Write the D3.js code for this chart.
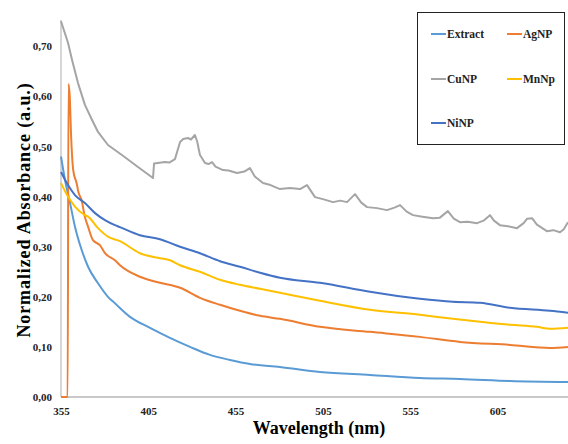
<!DOCTYPE html>
<html>
<head>
<meta charset="utf-8">
<script src="https://cdn.jsdelivr.net/npm/d3@7"></script>
<style>
  body { margin: 0; background: #fff; }
</style>
</head>
<body>
<svg id="chart" width="568" height="444"></svg>
<script>
// data: [wavelength nm, normalized absorbance]
var extract = [[355,0.48],[357.3,0.433],[360.2,0.387],[363,0.34],[366.9,0.293],[370.5,0.26],[376.2,0.227],
  [381.9,0.2],[385.9,0.187],[394.5,0.16],[406,0.138],[417.4,0.118],[428.9,0.1],[440.3,0.084],[451.8,0.074],
  [463.2,0.066],[480.4,0.06],[503.3,0.05],[532,0.044],[560.6,0.038],[583.5,0.036],[612.2,0.032],[645.4,0.03]];
var agnp = [[355,0],[358.8,0],[359.3,0.625],[360,0.6],[360.8,0.52],[362,0.453],[364.2,0.423],[364.7,0.413],
  [367,0.39],[368.5,0.362],[370.5,0.34],[373.3,0.313],[377.3,0.303],[380.2,0.287],[385.9,0.273],[388.8,0.263],
  [400.2,0.24],[411.7,0.228],[423.2,0.218],[434.6,0.198],[446.1,0.184],[457.5,0.172],[469,0.162],[480.4,0.156],
  [503.3,0.14],[532,0.13],[560.6,0.12],[583.5,0.11],[612.2,0.104],[635.1,0.098],[645.4,0.1]];
var cunp = [[355,0.75],[359,0.707],[361.3,0.673],[364.7,0.627],[368.7,0.583],[372.8,0.553],[376.2,0.529],
  [381.9,0.503],[389.9,0.483],[399.1,0.459],[407.7,0.437],[408.3,0.466],[414.6,0.469],[417,0.468],[420.3,0.475],
  [423.2,0.509],[425,0.515],[427.7,0.517],[429.5,0.514],[431.7,0.523],[433,0.51],[434.6,0.483],[437.5,0.467],
  [439.5,0.465],[441.5,0.469],[443.5,0.46],[447.8,0.453],[451,0.452],[455.8,0.447],[460,0.45],[463.2,0.457],
  [466,0.44],[470.7,0.427],[475,0.423],[480.4,0.415],[486,0.417],[491.9,0.415],[495.9,0.423],[500.5,0.399],
  [505,0.395],[510.8,0.389],[515,0.392],[518.8,0.389],[523.4,0.405],[527,0.388],[530.3,0.379],[536,0.377],
  [541.7,0.373],[546,0.378],[549.2,0.383],[553,0.37],[556.6,0.363],[562,0.36],[568.1,0.357],[572,0.358],
  [576.6,0.371],[580,0.356],[583.5,0.349],[588,0.35],[593.3,0.347],[597,0.352],[600.7,0.363],[603,0.352],
  [606.4,0.343],[611,0.341],[616.2,0.337],[620,0.347],[622,0.356],[624.8,0.357],[627.6,0.344],[633.3,0.331],
  [637,0.333],[640.8,0.329],[643,0.335],[645.4,0.349]];
var mnnp = [[355,0.427],[359,0.4],[363,0.38],[368.7,0.363],[370.5,0.36],[376.2,0.337],[381.9,0.32],[388.8,0.311],
  [400.2,0.287],[411.7,0.277],[417.4,0.273],[423.2,0.263],[434.6,0.25],[446.1,0.234],[457.5,0.224],[469,0.216],
  [480.4,0.208],[503.3,0.192],[532,0.174],[560.6,0.164],[579.5,0.156],[595,0.15],[612.2,0.144],[627.6,0.14],
  [635.1,0.136],[645.4,0.138]];
var ninp = [[355,0.449],[359,0.423],[363,0.403],[368.7,0.387],[374.5,0.367],[380.2,0.353],[385.9,0.343],
  [388.8,0.339],[400.2,0.323],[411.7,0.315],[423.2,0.3],[434.6,0.287],[446.1,0.271],[457.5,0.26],[469,0.248],
  [480.4,0.238],[503.3,0.228],[532,0.21],[560.6,0.196],[579.5,0.19],[595,0.188],[612.2,0.178],[635.1,0.172],
  [645.4,0.168]];

var xTicks = [355, 405, 455, 505, 555, 605];
var yTicks = [0, 0.1, 0.2, 0.3, 0.4, 0.5, 0.6, 0.7];

var series = [
  {name: "Extract", color: "#5B9BD5", data: extract, smooth: true},
  {name: "AgNP", color: "#ED7D31", data: agnp, smooth: true},
  {name: "CuNP", color: "#A5A5A5", data: cunp, smooth: false},
  {name: "MnNp", color: "#FFC000", data: mnnp, smooth: true},
  {name: "NiNP", color: "#4472C4", data: ninp, smooth: true}
];

var FONT = "'Liberation Serif', Tinos, 'Times New Roman', 'DejaVu Serif', serif";
var svg = d3.select("#chart").attr("font-family", FONT);
var x = d3.scaleLinear().domain([355, 645.4]).range([61, 568]);
var y = d3.scaleLinear().domain([0, 0.75]).range([397, 21.25]);

// axes
var fmt = function(d){ return d3.format(".2f")(d).replace(".", ","); };
var yAxis = svg.append("g").attr("transform", "translate(61,0)")
  .call(d3.axisLeft(y).tickValues(yTicks).tickFormat(fmt).tickSize(0).tickPadding(9));
yAxis.attr("font-family", FONT);
yAxis.select(".domain").attr("stroke", "#c8c8c8").attr("stroke-width", 1.5).attr("d", "M0,20V397");
yAxis.selectAll("text").attr("font-size", 11).attr("font-weight", "bold").attr("fill", "#222");

var xAxis = svg.append("g").attr("transform", "translate(0,397)")
  .call(d3.axisBottom(x).tickValues(xTicks).tickFormat(d3.format("d")).tickSize(0).tickPadding(10));
xAxis.attr("font-family", FONT);
xAxis.select(".domain").attr("stroke", "#c8c8c8").attr("stroke-width", 2).attr("d", "M61,0H568");
xAxis.selectAll("text").attr("font-size", 11).attr("font-weight", "bold").attr("fill", "#222");

// lines
var lineSmooth = d3.line().curve(d3.curveMonotoneX)
  .x(function(d){ return x(d[0]); }).y(function(d){ return y(d[1]); });
var lineRaw = d3.line().x(function(d){ return x(d[0]); }).y(function(d){ return y(d[1]); });
svg.append("g").selectAll("path").data(series).enter().append("path")
  .attr("d", function(d){ return d.smooth ? lineSmooth(d.data) : lineRaw(d.data); })
  .attr("fill", "none")
  .attr("stroke", function(d){ return d.color; })
  .attr("stroke-width", 2)
  .attr("stroke-linejoin", "round");

// axis titles
svg.append("text").attr("transform", "translate(30,210) rotate(-90)")
  .attr("text-anchor", "middle").attr("font-size", 18).attr("font-weight", "bold")
  .attr("letter-spacing", 0.9).text("Normalized Absorbance (a.u.)");
svg.append("text").attr("x", 319).attr("y", 434)
  .attr("text-anchor", "middle").attr("font-size", 18).attr("font-weight", "bold")
  .text("Wavelength (nm)");

// legend
var lg = svg.append("g");
lg.append("rect").attr("x", 417.5).attr("y", 12.5).attr("width", 147).attr("height", 132)
  .attr("fill", "#fff").attr("stroke", "#222").attr("stroke-width", 1);
var pos = [[431, 34], [507, 34], [431, 79], [507, 79], [431, 123]];
var item = lg.selectAll("g.item").data(series).enter().append("g")
  .attr("transform", function(d, i){ return "translate(" + pos[i][0] + "," + pos[i][1] + ")"; });
item.append("line").attr("x1", 0).attr("x2", 15).attr("y1", 0).attr("y2", 0)
  .attr("stroke", function(d){ return d.color; }).attr("stroke-width", 2);
item.append("text").attr("x", 16).attr("y", 4).attr("font-size", 11.5).attr("font-weight", "bold")
  .attr("fill", "#222").text(function(d){ return d.name; });
</script>
</body>
</html>
